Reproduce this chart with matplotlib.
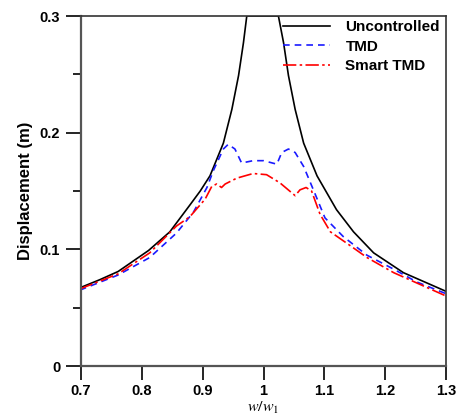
import matplotlib.pyplot as plt
import numpy as np

plt.rcParams['font.family'] = ['Liberation Sans', 'DejaVu Sans']
plt.rcParams['mathtext.fontset'] = 'stix'

# Uncontrolled
x_unc = np.array([0.698, 0.731, 0.761, 0.811, 0.846, 0.879, 0.896, 0.912, 0.934, 0.948,
                  0.959, 0.967, 0.9725, 1.0, 1.0245, 1.033, 1.041, 1.052, 1.066, 1.088,
                  1.120, 1.148, 1.181, 1.230, 1.300])
y_unc = np.array([0.067, 0.074, 0.081, 0.099, 0.115, 0.138, 0.150, 0.163, 0.191, 0.220,
                  0.249, 0.277, 0.300, 0.300, 0.300, 0.277, 0.249, 0.220, 0.191, 0.163,
                  0.134, 0.115, 0.097, 0.080, 0.064])

# TMD
x_tmd = np.array([0.698, 0.761, 0.813, 0.857, 0.885, 0.907, 0.918, 0.934, 0.942, 0.953,
                  0.964, 0.983, 1.000, 1.022, 1.030, 1.041, 1.052, 1.066, 1.082, 1.101,
                  1.131, 1.170, 1.214, 1.252, 1.300])
y_tmd = np.array([0.065, 0.078, 0.093, 0.114, 0.132, 0.153, 0.168, 0.186, 0.190, 0.186,
                  0.174, 0.176, 0.176, 0.173, 0.183, 0.186, 0.183, 0.171, 0.151, 0.127,
                  0.111, 0.095, 0.083, 0.072, 0.062])

# Smart TMD
x_smart = np.array([0.698, 0.761, 0.813, 0.857, 0.879, 0.904, 0.915, 0.923, 0.931, 0.937,
                    0.956, 0.983, 1.005, 1.027, 1.052, 1.060, 1.070, 1.079, 1.093, 1.110,
                    1.143, 1.170, 1.214, 1.257, 1.300])
y_smart = np.array([0.066, 0.079, 0.097, 0.120, 0.128, 0.143, 0.154, 0.156, 0.153, 0.156,
                    0.161, 0.165, 0.164, 0.157, 0.146, 0.151, 0.153, 0.150, 0.130, 0.115,
                    0.103, 0.093, 0.080, 0.070, 0.060])

fig = plt.figure(figsize=(4.64, 4.18), dpi=100)
ax = fig.add_axes([0.1746, 0.1244, 0.7866, 0.8373])

ax.plot(x_unc, y_unc, color='black', lw=1.2, label='Uncontrolled')
ax.plot(x_tmd, y_tmd, color='#1a1aff', lw=1.2, ls=(0, (4, 3)), label='TMD')
ax.plot(x_smart, y_smart, color='red', lw=1.2, ls=(0, (8, 2, 1.5, 2)), label='Smart TMD')

ax.set_xlim(0.7, 1.3)
ax.set_ylim(0, 0.3)
ax.set_xticks([0.7, 0.8, 0.9, 1.0, 1.1, 1.2, 1.3])
ax.set_xticklabels(['0.7', '0.8', '0.9', '1', '1.1', '1.2', '1.3'])
ax.set_yticks([0, 0.1, 0.2, 0.3])
ax.set_yticklabels(['0', '0.1', '0.2', '0.3'])
ax.set_yticks([0.05, 0.15, 0.25], minor=True)
ax.tick_params(axis='both', which='major', direction='out', length=11, width=1.2,
               labelsize=10.5, colors='black', pad=4)
ax.tick_params(axis='x', which='major', length=10, pad=3)
ax.tick_params(axis='y', which='minor', direction='out', length=6, width=1.2)
for lab in ax.get_xticklabels() + ax.get_yticklabels():
    lab.set_fontweight('bold')

for side in ['left', 'bottom']:
    ax.spines[side].set_color('#555555')
    ax.spines[side].set_linewidth(1.6)
for side in ['top', 'right']:
    ax.spines[side].set_color('#333333')
    ax.spines[side].set_linewidth(1.2)

ax.set_ylabel('Displacement (m)', fontsize=12, fontweight='bold', labelpad=5)
ax.set_xlabel(r'$w/w_1$', fontsize=11.5, labelpad=1)

ax.legend(loc='upper right', frameon=False, prop={'weight': 'bold', 'size': 11},
          handlelength=3.1, borderaxespad=0.0, labelspacing=0.35, handletextpad=1.0,
          bbox_to_anchor=(1.0, 1.005))

fig.savefig('out.png', dpi=100)
